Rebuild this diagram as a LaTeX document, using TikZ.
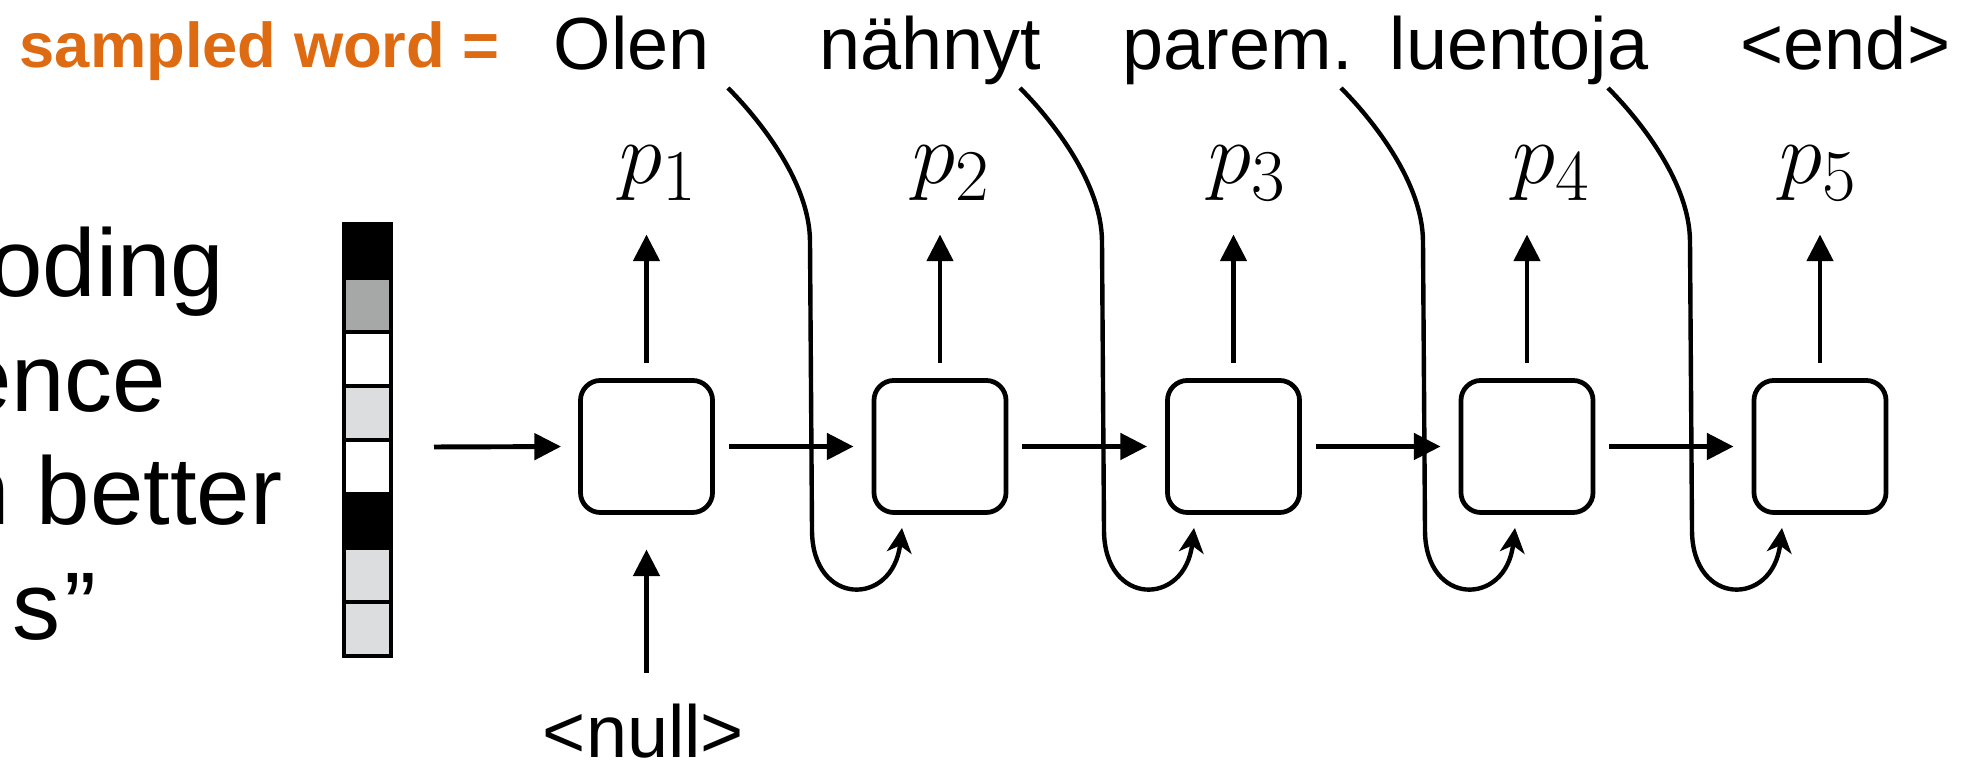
\documentclass[tikz,border=0pt]{standalone}
\usepackage{fontspec}
\setmainfont{Liberation Sans}
\usetikzlibrary{arrows.meta}
\definecolor{samp}{RGB}{222,106,18}
\definecolor{cellgray}{RGB}{166,168,167}
\definecolor{celllight}{RGB}{220,221,222}
\begin{document}
\begin{tikzpicture}[x=0.01cm,y=-0.01cm,
  word/.style={anchor=base west, inner sep=0pt, font=\fontsize{21}{25}\selectfont},
  lefttext/.style={anchor=base east, inner sep=0pt, font=\fontsize{27.3}{32}\selectfont},
  plab/.style={anchor=base west, inner sep=0pt, font=\fontsize{28.5}{32}\selectfont},
  cell/.style={draw, rounded corners=0.2cm, minimum width=1.32cm, minimum height=1.32cm, line width=1.35pt, inner sep=0pt},
  arr/.style={line width=1.4pt, -{Triangle[length=7.6pt,width=7.4pt]}},
  feed/.style={line width=1.25pt, -{Stealth[length=7pt,width=7pt,inset=2pt]}}]
\useasboundingbox (0,0) rectangle (1984,765);
\clip (0,0) rectangle (1984,765);

% label and sampled words
\node[anchor=base west, inner sep=0pt, text=samp, font=\bfseries\fontsize{18}{22}\selectfont] (lab) at (19,68) {sampled word =};
\node[word] (w1) at (553,70) {Olen};
\node[word] (w2) at (819,70) {nähnyt};
\node[word] (w3) at (1122,70) {parem.};
\node[word] (w4) at (1389,70) {luentoja};
\node[word] (w5) at (1740,70) {<end>};

% left text (cut off at the edge)
\node[lefttext] (l1) at (225,297) {oding};
\node[lefttext] (l2) at (167,412) {ence};
\node[lefttext] (l3) at (283,525) {n better};
\node[lefttext] (l4) at (97,640) {s\kern1pt”};

% encoding vector
\foreach \c [count=\i from 0] in {black,cellgray,white,celllight,white,black,celllight,celllight}
  \filldraw[fill=\c, line width=1.1pt] (344,{224+\i*54}) rectangle ++(47,54);
\draw[line width=1.4pt] (344,224) rectangle (391,656);

% RNN cells
\node[cell] (b1) at (646.5,446.5) {};
\node[cell] (b2) at (940,446.5) {};
\node[cell] (b3) at (1233.5,446.5) {};
\node[cell] (b4) at (1527,446.5) {};
\node[cell] (b5) at (1820,446.5) {};

% outputs
\node[plab] (p1) at (619,184) {$p_1$};
\node[plab] (p2) at (912,184) {$p_2$};
\node[plab] (p3) at (1208,184) {$p_3$};
\node[plab] (p4) at (1512,184) {$p_4$};
\node[plab] (p5) at (1779,184) {$p_5$};

\foreach \i in {1,...,5} {
  \coordinate (t\i) at ([yshift=1.435cm]b\i.north);
  \draw[arr, shorten <=0.15cm] (b\i.north) -- (t\i);
}

% recurrent arrows
\coordinate (vin) at (434,447);
\draw[arr, shorten >=0.17cm] (vin) -- (b1.west);
\foreach \i/\j in {1/2,2/3,3/4,4/5}
  \draw[arr, shorten <=0.14cm, shorten >=0.18cm] (b\i.east) -- (b\j.west);

% input null
\node[word, anchor=base] (null) at (643.5,758) {<null>};
\draw[arr, shorten <=0.31cm, shorten >=0.345cm] (b1.south |- null.north) -- (b1.south);

% feedback curves
\foreach \d/\n in {0/1, 292/2, 613/3, 880/4} {
  \coordinate (s\n) at ({728+\d},88);
  \coordinate (e\n) at ({902+\d},528);
  \draw[feed] (s\n) .. controls ({755+\d},115) and ({810+\d},180) .. ({810+\d},242)
     -- ({812+\d},530) .. controls ({812+\d},607) and ({893+\d},607) .. (e\n);
}
\end{tikzpicture}
\end{document}
